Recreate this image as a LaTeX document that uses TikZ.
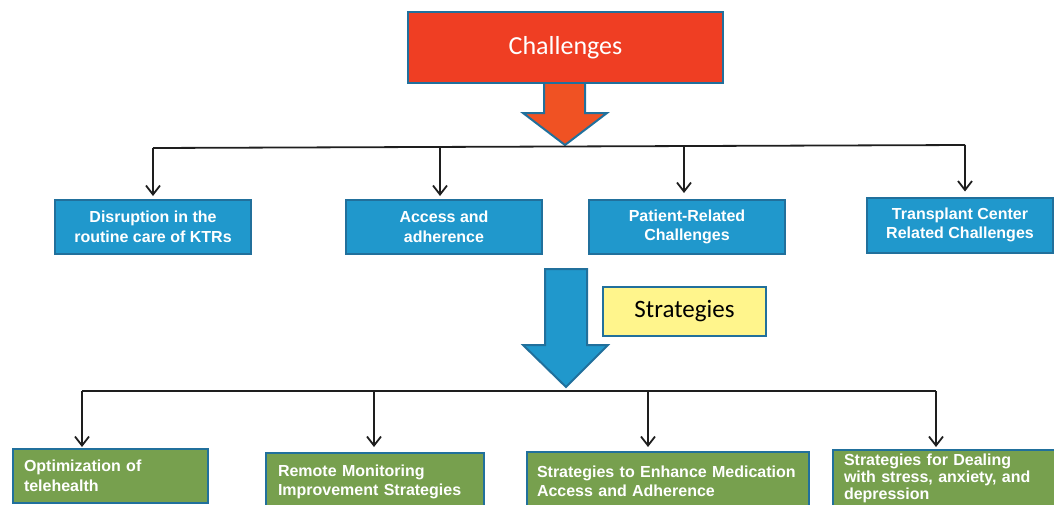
\documentclass[tikz,border=0pt]{standalone}
\usepackage{fontspec}
\setmainfont{Liberation Sans}
\newfontfamily\calib{Carlito}
\usetikzlibrary{arrows.meta,calc}
\definecolor{redfill}{RGB}{239,62,35}
\definecolor{orangefill}{RGB}{240,82,35}
\definecolor{edgeblue}{RGB}{33,112,156}
\definecolor{bluefill}{RGB}{32,152,204}
\definecolor{greenfill}{RGB}{119,160,78}
\definecolor{yellowfill}{RGB}{255,245,140}
\definecolor{linecol}{RGB}{30,30,30}
\tikzset{
  boxbase/.style={draw=edgeblue, line width=2pt, inner sep=0pt},
  titlebox/.style={boxbase, fill=redfill, text=white, font=\calib\fontsize{26}{30}\selectfont},
  stratbox/.style={boxbase, fill=yellowfill, text=black, font=\calib\fontsize{25}{30}\selectfont},
  chalbox/.style={boxbase, fill=bluefill, text=white, align=center,
    font=\bfseries\fontsize{16}{19.5}\selectfont},
  stratitem/.style={boxbase, fill=greenfill, text=white, align=left, anchor=north west,
    inner xsep=11pt, font=\bfseries\fontsize{16}{19.5}\selectfont},
  bus/.style={draw=linecol, line width=1.8pt},
  arr/.style={draw=linecol, line width=1.8pt, -{Straight Barb[length=9pt,width=14pt]}},
  blockarrow/.style={draw=edgeblue, line width=2pt, line join=miter}
}
\begin{document}
\begin{tikzpicture}[x=1pt,y=-1pt]
\useasboundingbox (0,0) rectangle (1054,504);
\clip (0,0) rectangle (1054,504);

% block arrows
\draw[blockarrow, fill=orangefill] (544,80) -- (585,80) -- (585,113) -- (607,113) -- (565,145) -- (523,113) -- (544,113) -- cycle;
\draw[blockarrow, fill=bluefill] (545,269) -- (587,269) -- (587,345) -- (608,345) -- (566,387) -- (523,345) -- (545,345) -- cycle;

% title
\node[titlebox, minimum width=315, minimum height=71] (ch) at (565.5,47.5) {Challenges};
\node[stratbox, minimum width=163, minimum height=49] (st) at (684.5,311.5) {Strategies};

% challenge boxes
\node[chalbox, minimum width=196, minimum height=54] (b1) at (153,227) {Disruption in the\\routine care of KTRs};
\node[chalbox, minimum width=196, minimum height=54] (b2) at (444,227) {Access and\\adherence};
\node[chalbox, minimum width=196, minimum height=54] (b3) at (687,227) {Patient-Related\\Challenges};
\node[chalbox, minimum width=186, minimum height=55] (b4) at (960,225) {Transplant Center\\Related Challenges};

% strategy boxes
\node[stratitem, text width=173, minimum height=54] (g1) at (12,448) {Optimization of\\telehealth};
\node[stratitem, inner xsep=12pt, text width=194, minimum height=58] (g2) at (265,452) {Remote Monitoring\\Improvement Strategies};
\node[stratitem, inner xsep=10pt, text width=262, minimum height=59] (g3) at (526,451) {Strategies to Enhance Medication\\Access and Adherence};
\node[stratitem, text width=220, minimum height=57, font=\bfseries\fontsize{16}{17}\selectfont] (g4) at (832,449) {Strategies for Dealing\\with stress, anxiety, and\\depression};

% top bus
\coordinate (t1) at (153,148);
\coordinate (t2) at (440,147);
\coordinate (t3) at (684,146);
\coordinate (t4) at (965,145);
\draw[bus] (t1) -- (t4);
\draw[arr, shorten >=3pt] (t1) -- (t1 |- b1.north);
\draw[arr, shorten >=3pt] (t2) -- (t2 |- b2.north);
\draw[arr, shorten >=6pt] (t3) -- (t3 |- b3.north);
\draw[arr, shorten >=5pt] (t4) -- (t4 |- b4.north);

% bottom bus
\coordinate (s1) at (82,391);
\coordinate (s2) at (374,391);
\coordinate (s3) at (648,391);
\coordinate (s4) at (936,391);
\draw[bus] (s1) -- (s4);
\draw[arr, shorten >=1pt] (s1) -- (s1 |- g1.north);
\draw[arr, shorten >=5pt] (s2) -- (s2 |- g2.north);
\draw[arr, shorten >=4pt] (s3) -- (s3 |- g3.north);
\draw[arr, shorten >=2pt] (s4) -- (s4 |- g4.north);
\end{tikzpicture}
\end{document}
